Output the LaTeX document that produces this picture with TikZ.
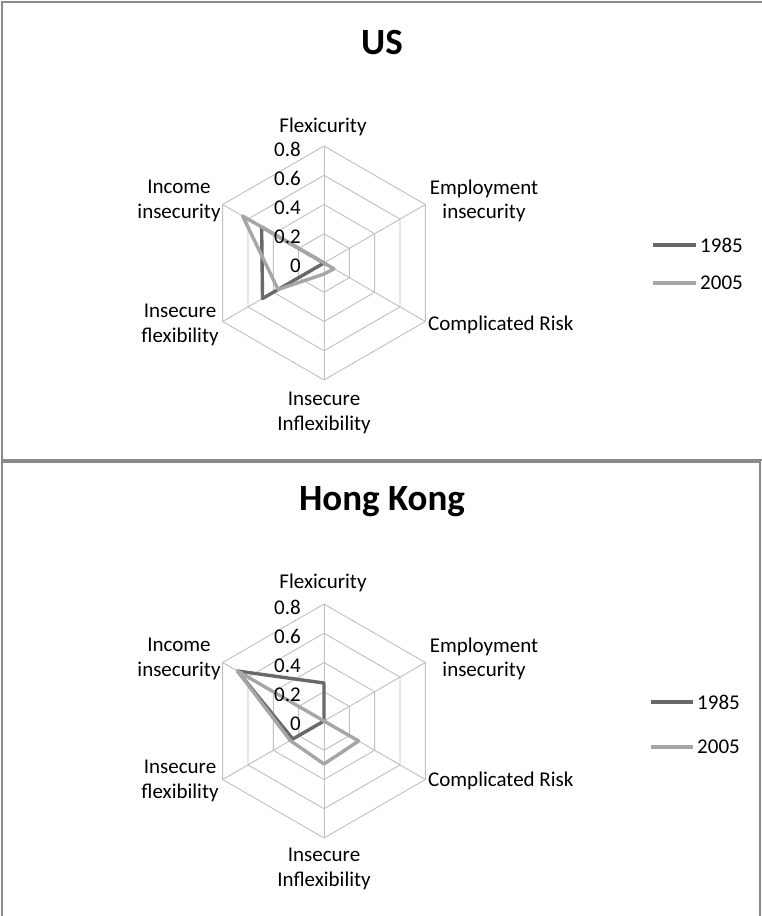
\documentclass[tikz,border=0pt]{standalone}
\usepackage{fontspec}
\setmainfont{Carlito}
\definecolor{framegray}{RGB}{138,138,138}
\definecolor{gridgray}{RGB}{192,192,192}
\definecolor{dark85}{RGB}{105,105,105}
\definecolor{light05}{RGB}{166,166,166}
\newcommand\hexring[1]{(90:#1) -- (30:#1) -- (-30:#1) -- (-90:#1) -- (210:#1) -- (150:#1) -- cycle}
\begin{document}
\begin{tikzpicture}[x=1pt,y=-1pt,
  frame/.style={draw=framegray, line width=1.6pt},
  gridline/.style={draw=gridgray, line width=0.9pt},
  s85/.style={draw=dark85, line width=3.4pt, line join=round, line cap=round},
  s05/.style={draw=light05, line width=3.4pt, line join=round, line cap=round},
  axislbl/.style={font=\fontsize{21}{24.5}\selectfont, align=center, inner sep=0pt},
  ticklbl/.style={font=\fontsize{21}{24}\selectfont, anchor=east, inner sep=0pt},
  ttl/.style={font=\fontsize{37}{40}\selectfont\bfseries, inner sep=0pt},
  leglbl/.style={font=\fontsize{21}{24}\selectfont, anchor=west, inner sep=0pt},
  leg85/.style={draw=dark85, line width=3.4pt},
  leg05/.style={draw=light05, line width=3.4pt}]

\useasboundingbox (0,0) rectangle (762,916);
\fill[white] (0,0) rectangle (762,916);

% panel frames
\draw[frame] (770,2) -- (2,2) -- (2,460) -- (770,460);
\draw[frame] (2,920) -- (2,462) -- (760,462) -- (760,920);

% ---------------- US ----------------
\node[ttl] (t1) at (382,43) {US};
\begin{scope}[shift={(324,263)}]
  \foreach \r in {29.25,58.5,87.75,117} \draw[gridline] \hexring{\r pt};
  \foreach \a in {90,30,-30,-90,210,150} \draw[gridline] (0,0) -- (\a:117pt);
  % 1985
  \draw[s85] (90:0pt) -- (30:0pt) -- (-30:0pt) -- (-90:0pt) -- (210:71pt) -- (150:72pt) -- cycle;
  % 2005
  \draw[s05] (90:0pt) -- (30:0pt) -- (-30:11.6pt) -- (-90:11pt) -- (210:53pt) -- (150:94pt) -- cycle;
\end{scope}
\node[ticklbl] (u8) at (301,149) {0.8};
\node[ticklbl] (u6) at (301,178) {0.6};
\node[ticklbl] (u4) at (301,208) {0.4};
\node[ticklbl] (u2) at (301,237) {0.2};
\node[ticklbl] (u0) at (301,266) {0};
\node[axislbl] (ua) at (323,127) {Flexicurity};
\node[axislbl] (ub) at (484,201) {Employment\\insecurity};
\node[axislbl, anchor=west] (uc) at (428,325) {Complicated Risk};
\node[axislbl] (ud) at (324,413) {Insecure\\Inflexibility};
\node[axislbl] (ue) at (180,325) {Insecure\\flexibility};
\node[axislbl] (uf) at (179,201) {Income\\insecurity};
% legend
\node[leglbl] (ul1) at (700,245) {1985};
\node[leglbl] (ul2) at (700,283) {2005};
\coordinate (ul1s) at (653,245);
\coordinate (ul2s) at (653,283);
\draw[leg85] (ul1s) -- ([xshift=-4pt]ul1.west);
\draw[leg05] (ul2s) -- ([xshift=-4pt]ul2.west);

% ---------------- Hong Kong ----------------
\node[ttl] (t2) at (382,502) {Hong Kong};
\begin{scope}[shift={(324,721)}]
  \foreach \r in {29.25,58.5,87.75,117} \draw[gridline] \hexring{\r pt};
  \foreach \a in {90,30,-30,-90,210,150} \draw[gridline] (0,0) -- (\a:117pt);
  % 1985
  \draw[s85] (90:38pt) -- (30:0pt) -- (-30:0pt) -- (-90:0pt) -- (210:36pt) -- (150:100pt) -- cycle;
  % 2005
  \draw[s05] (90:0pt) -- (30:0pt) -- (-30:40pt) -- (-90:43pt) -- (210:39pt) -- (150:100pt) -- cycle;
\end{scope}
\node[ticklbl] (h8) at (301,607) {0.8};
\node[ticklbl] (h6) at (301,636) {0.6};
\node[ticklbl] (h4) at (301,666) {0.4};
\node[ticklbl] (h2) at (301,695) {0.2};
\node[ticklbl] (h0) at (301,724) {0};
\node[axislbl] (ha) at (323,583) {Flexicurity};
\node[axislbl] (hb) at (484,659) {Employment\\insecurity};
\node[axislbl, anchor=west] (hc) at (428,781) {Complicated Risk};
\node[axislbl] (hd) at (324,869) {Insecure\\Inflexibility};
\node[axislbl] (he) at (180,781) {Insecure\\flexibility};
\node[axislbl] (hf) at (179,659) {Income\\insecurity};
% legend
\node[leglbl] (hl1) at (697,702) {1985};
\node[leglbl] (hl2) at (697,747) {2005};
\coordinate (hl1s) at (651,702);
\coordinate (hl2s) at (651,747);
\draw[leg85] (hl1s) -- ([xshift=-4pt]hl1.west);
\draw[leg05] (hl2s) -- ([xshift=-4pt]hl2.west);
\end{tikzpicture}
\end{document}
